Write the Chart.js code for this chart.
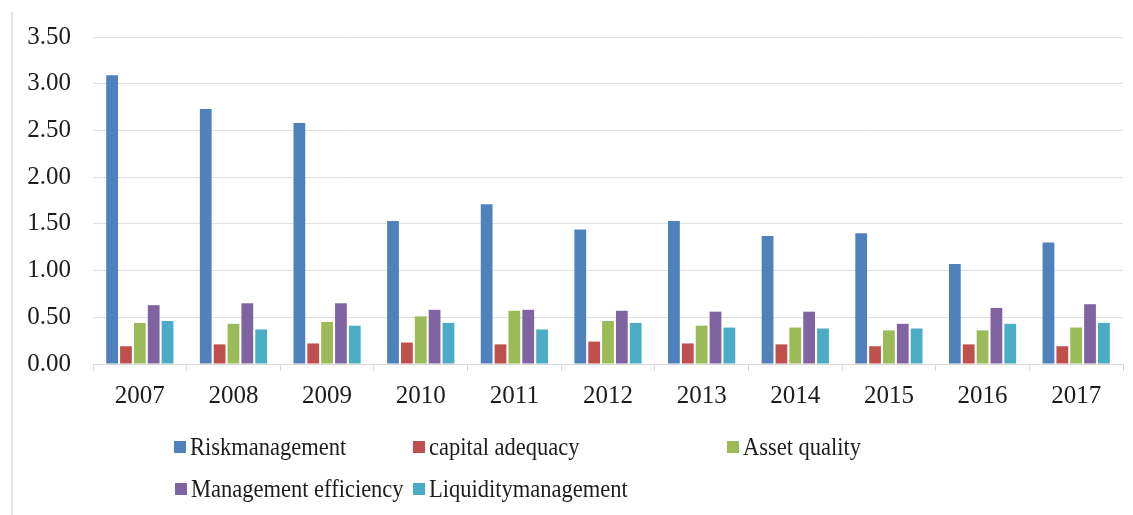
<!DOCTYPE html>
<html>
<head>
<meta charset="utf-8">
<script src="https://cdn.jsdelivr.net/npm/chart.js@4.4.1/dist/chart.umd.min.js"></script>
<style>
  html, body { margin: 0; padding: 0; background: #fff; }
  #wrap { position: relative; width: 1133px; height: 515px; overflow: hidden; }
  #frame { position: absolute; left: 11px; top: 12px; width: 0; height: 503px; border-left: 2px solid #e3e3e3; }
  canvas { position: absolute; left: 0; top: 0; }
  .legend-item { position: absolute; display: flex; align-items: center; font-family: 'Liberation Serif', Times, serif; font-size: 25px; color: #1c1c1c; white-space: nowrap; height: 30px; }
  .legend-box { width: 12px; height: 12px; margin-right: 4px; flex: none; }
  .legend-text { display: inline-block; transform: scaleX(0.9); transform-origin: left center; }
</style>
</head>
<body>
<div id="wrap">
  <div id="frame"></div>
  <canvas id="chart" width="1133" height="515"></canvas>
  <div id="legend"></div>
</div>
<script>
const years = ["2007", "2008", "2009", "2010", "2011", "2012", "2013", "2014", "2015", "2016", "2017"];

const riskManagement = [3.09, 2.73, 2.58, 1.53, 1.71, 1.44, 1.53, 1.37, 1.40, 1.07, 1.30];
const capitalAdequacy = [0.19, 0.21, 0.22, 0.23, 0.21, 0.24, 0.22, 0.21, 0.19, 0.21, 0.19];
const assetQuality = [0.44, 0.43, 0.45, 0.51, 0.57, 0.46, 0.41, 0.39, 0.36, 0.36, 0.39];
const managementEfficiency = [0.63, 0.65, 0.65, 0.58, 0.58, 0.57, 0.56, 0.56, 0.43, 0.60, 0.64];
const liquidityManagement = [0.46, 0.37, 0.41, 0.44, 0.37, 0.44, 0.39, 0.38, 0.38, 0.43, 0.44];

const seriesNames = ["Riskmanagement", "capital adequacy", "Asset quality", "Management efficiency", "Liquiditymanagement"];
const seriesColors = ["#4f81bd", "#c0504d", "#9bbb59", "#8064a2", "#4bacc6"];
const seriesData = [riskManagement, capitalAdequacy, assetQuality, managementEfficiency, liquidityManagement];

// legend slots, same wrap as the original picture
const legendSlots = [
  { left: 174, top: 432 },
  { left: 413, top: 432 },
  { left: 727, top: 432 },
  { left: 175, top: 474 },
  { left: 413, top: 474 },
];

const serif = "'Liberation Serif', Times, serif";

document.getElementById("legend").innerHTML = seriesNames
  .map(
    (name, i) => `
      <div class="legend-item" style="left:${legendSlots[i].left}px;top:${legendSlots[i].top}px">
        <span class="legend-box" style="background:${seriesColors[i]}"></span><span class="legend-text">${name}</span>
      </div>
    `,
  )
  .join("");

function drawChart() {
  new Chart(document.getElementById("chart"), {
    type: "bar",
    data: {
      labels: years,
      datasets: seriesNames.map((name, i) => ({
        label: name,
        data: seriesData[i],
        backgroundColor: seriesColors[i],
        categoryPercentage: 0.74,
        barPercentage: 0.85,
      })),
    },
    options: {
      responsive: false,
      animation: false,
      layout: { padding: { top: 36, right: 10, left: 0, bottom: 0 } },
      plugins: {
        legend: { display: false },
        tooltip: { enabled: false },
      },
      scales: {
        x: {
          grid: { drawOnChartArea: false, drawTicks: true, tickLength: 7, color: "#d9d9d9", lineWidth: 1 },
          border: { display: true, color: "#d9d9d9", width: 1 },
          ticks: { font: { family: serif, size: 25 }, color: "#1c1c1c", padding: 10, maxRotation: 0 },
          afterFit(scale) { scale.height = 151; },
        },
        y: {
          min: 0,
          max: 3.5,
          grid: { drawTicks: false, color: "#e0e0e0", lineWidth: 1 },
          border: { display: false },
          ticks: {
            stepSize: 0.5,
            padding: 22,
            font: { family: serif, size: 25 },
            color: "#1c1c1c",
            callback: (value) => Number(value).toFixed(2),
          },
          afterFit(scale) { scale.width = 93; },
        },
      },
    },
  });
}

document.fonts.load("25px 'Liberation Serif'").then(drawChart, drawChart);
</script>
</body>
</html>
